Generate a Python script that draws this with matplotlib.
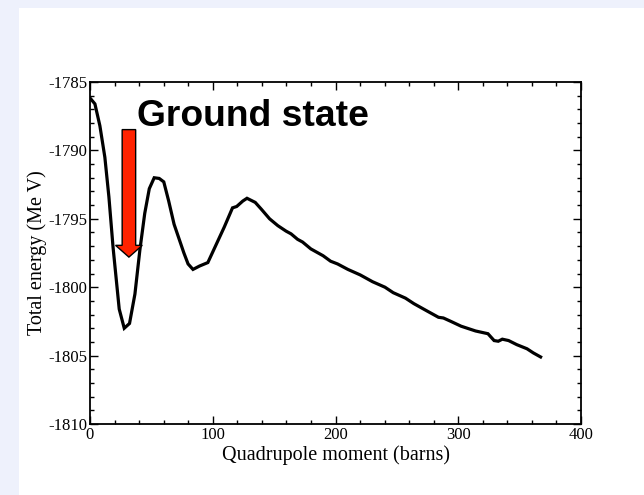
import matplotlib
matplotlib.use("Agg")
import matplotlib.pyplot as plt
from matplotlib.patches import Rectangle
from matplotlib.ticker import MultipleLocator

plt.rcParams["axes.unicode_minus"] = False

q_moment = [0, 4.0, 8.05, 12.1, 15.4, 18.8, 23.8, 27.9, 32.2, 36.6, 40.6, 44.6, 48.3,
            52.3, 56.4, 60.1, 64.1, 68.5, 76.5, 79.9, 83.9, 89.3, 96.0, 102.7, 109.4,
            116.1, 119.5, 124.5, 127.9, 134.6, 139.6, 146.3, 153.0, 159.7, 163.8,
            169.1, 173.2, 179.9, 189.9, 196.0, 201.7, 210.1, 220.1, 230.2, 240.3,
            247.0, 257.0, 263.8, 273.8, 283.9, 287.9, 294.0, 302.3, 314.1, 324.2,
            329.2, 332.6, 335.9, 341.0, 347.7, 356.0, 361.1, 367.1]
energy = [-1786.17, -1786.6, -1788.2, -1790.5, -1793.4, -1797.1, -1801.6, -1803.0,
          -1802.65, -1800.5, -1797.3, -1794.6, -1792.8, -1792.0, -1792.05, -1792.3,
          -1793.7, -1795.4, -1797.5, -1798.3, -1798.7, -1798.45, -1798.2, -1796.9,
          -1795.6, -1794.2, -1794.1, -1793.7, -1793.5, -1793.8, -1794.3, -1795.0,
          -1795.5, -1795.9, -1796.1, -1796.5, -1796.7, -1797.2, -1797.7, -1798.1,
          -1798.3, -1798.7, -1799.1, -1799.6, -1800.0, -1800.4, -1800.8, -1801.2,
          -1801.7, -1802.2, -1802.25, -1802.5, -1802.85, -1803.2, -1803.4, -1803.9,
          -1803.95, -1803.8, -1803.9, -1804.2, -1804.5, -1804.8, -1805.1]

x_label = "Quadrupole moment (barns)"
y_label = "Total energy (Me V)"
annotation = "Ground state"

fig = plt.figure(figsize=(6.44, 4.95), dpi=100, facecolor="#EEF1FC")
bg = fig.add_axes([19 / 644, 0, 1 - 19 / 644, 1 - 8 / 495], zorder=-10)
bg.set_axis_off()
bg.add_patch(Rectangle((0, 0), 1, 1, transform=bg.transAxes, facecolor="white",
                       edgecolor="none"))

ax = fig.add_axes([90 / 644, 71 / 495, 491 / 644, 342 / 495])
ax.plot(q_moment, energy, color="black", lw=2.3, solid_joinstyle="miter")
ax.set_xlim(0, 400)
ax.set_ylim(-1810, -1785)
ax.xaxis.set_major_locator(MultipleLocator(100))
ax.xaxis.set_minor_locator(MultipleLocator(20))
ax.yaxis.set_major_locator(MultipleLocator(5))
ax.yaxis.set_minor_locator(MultipleLocator(1))
ax.tick_params(which="both", direction="in", top=True, right=True, width=1.0,
               labelsize=12, pad=2)
ax.tick_params(which="major", length=6)
ax.tick_params(which="minor", length=3)
for lab in ax.get_xticklabels() + ax.get_yticklabels():
    lab.set_fontfamily("Liberation Serif")
for s in ax.spines.values():
    s.set_linewidth(1.3)

ax.set_xlabel(x_label, fontfamily="Liberation Serif", fontsize=14.5, labelpad=2)
ax.set_ylabel(y_label, fontfamily="Liberation Serif", fontsize=14.5, labelpad=1)

ax.arrow(31.7, -1788.48, 0, -9.32, width=11, head_width=21.8, head_length=0.86,
         length_includes_head=True, facecolor="#FF2200", edgecolor="black",
         linewidth=1.0, zorder=3)
ax.text(37.9, -1788.2, annotation, fontfamily="Liberation Sans", fontweight="bold",
        fontsize=26.8, ha="left", va="baseline")

fig.savefig("out.png", dpi=100, facecolor=fig.get_facecolor())
